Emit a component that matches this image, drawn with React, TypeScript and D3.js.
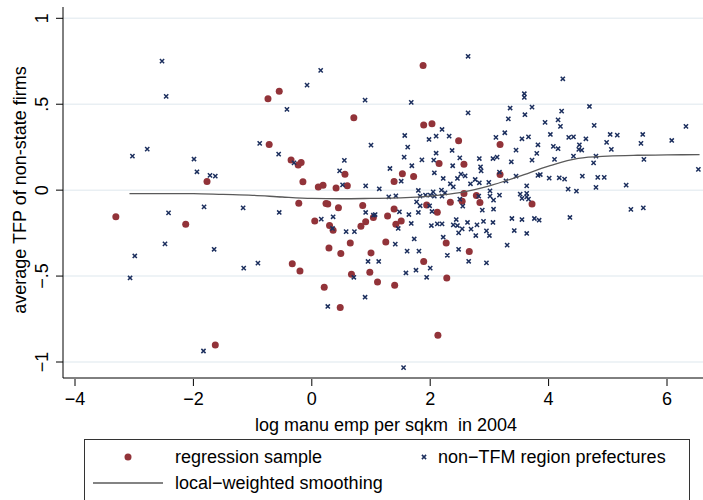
import React from 'react';
import * as d3 from 'd3';

// regression sample (red dots): [log manu emp, avg TFP]
const regressionSample: [number, number][] = [
  [-1.77, 0.051], [-3.31, -0.155], [-2.13, -0.198], [-1.63, -0.901], [-0.74, 0.532],
  [-0.55, 0.575], [0.71, 0.421], [-0.72, 0.266], [-0.35, 0.175], [-0.23, 0.147],
  [-0.18, 0.161], [-0.15, 0.049], [0.11, 0.019], [0.19, 0.029], [0.41, 0.012],
  [0.56, 0.093], [0.6, 0.025], [-0.22, -0.076], [0.27, -0.08], [0.24, -0.078],
  [0.45, -0.103], [0.86, -0.089], [0.05, -0.179], [0.3, -0.206], [0.36, -0.233],
  [0.83, -0.21], [0.91, -0.184], [1.04, -0.159], [0.65, -0.307], [0.29, -0.336],
  [0.49, -0.369], [1.0, -0.365], [-0.33, -0.429], [-0.2, -0.47], [0.67, -0.489],
  [0.98, -0.478], [0.21, -0.565], [0.48, -0.683], [1.88, 0.726], [1.89, 0.379],
  [2.03, 0.386], [2.48, 0.287], [3.18, 0.266], [2.15, 0.155], [2.57, 0.151],
  [1.53, 0.095], [1.72, 0.08], [1.39, 0.051], [3.18, 0.091], [2.57, -0.019],
  [2.78, -0.031], [2.34, -0.07], [2.54, -0.064], [2.84, -0.072], [1.39, -0.109],
  [1.28, -0.151], [1.42, -0.198], [1.51, -0.179], [1.94, -0.087], [2.12, -0.128],
  [1.25, -0.301], [2.27, -0.307], [2.66, -0.357], [1.89, -0.415], [1.11, -0.534],
  [1.4, -0.553], [2.28, -0.511], [2.13, -0.845], [3.72, -0.08],
];

// non-TFM region prefectures (navy crosses)
const nonTfm: [number, number][] = [
  [-2.53, 0.751], [-2.46, 0.546], [-3.03, 0.198], [-2.78, 0.239], [-1.99, 0.181],
  [-1.94, 0.107], [-1.72, 0.086], [-1.63, 0.082],
  [-2.42, -0.132], [-1.82, -0.097], [-2.48, -0.313], [-2.99, -0.383], [-1.65, -0.344],
  [-3.07, -0.511], [-1.83, -0.936],
  [0.15, 0.697], [-0.08, 0.611], [0.9, 0.524], [-0.42, 0.47], [-0.88, 0.272],
  [-0.56, 0.21], [-0.3, 0.159], [1.0, 0.262], [0.55, 0.173], [0.47, 0.112],
  [0.52, 0.031], [0.91, 0.025],
  [-1.16, -0.103], [-0.55, -0.13], [0.16, -0.169], [0.36, -0.155], [0.35, -0.223],
  [0.58, -0.241], [0.72, -0.241], [0.91, -0.13], [1.04, -0.146], [-1.15, -0.454],
  [-0.91, -0.425], [0.95, -0.415], [0.71, -0.507], [0.9, -0.623], [0.27, -0.677],
  [2.64, 0.779], [1.68, 0.511], [2.64, 0.45], [3.59, 0.561], [3.59, 0.54],
  [3.6, 0.439], [3.35, 0.478], [3.32, 0.415], [3.26, 0.334], [3.11, 0.307],
  [3.55, 0.299], [3.66, 0.31], [2.2, 0.353], [2.1, 0.314], [1.98, 0.295],
  [2.32, 0.314], [1.57, 0.318], [1.62, 0.25], [1.56, 0.192], [1.86, 0.176],
  [2.1, 0.215], [2.06, 0.175], [2.37, 0.231], [2.5, 0.188], [2.83, 0.184],
  [3.06, 0.184], [3.13, 0.192], [3.37, 0.165], [3.45, 0.233], [1.69, 0.142],
  [1.32, 0.126], [2.38, 0.142], [2.85, 0.136], [2.86, 0.112], [2.07, 0.101],
  [1.51, 0.052], [2.22, 0.068], [2.52, 0.093], [2.59, 0.083], [2.46, 0.068],
  [2.34, 0.037], [2.19, 0.0], [2.68, 0.037], [2.76, 0.062], [2.83, 0.043],
  [2.99, 0.045], [3.17, 0.105], [3.28, 0.054], [3.45, 0.082], [3.63, 0.025],
  [1.14, 0.008], [1.8, -0.002], [2.05, -0.01], [2.25, -0.016], [2.39, 0.019],
  [3.01, -0.004], [1.3, -0.039], [1.42, -0.033], [1.92, -0.029], [2.0, -0.029],
  [2.07, -0.035],
  [1.83, -0.035], [2.2, -0.035], [2.5, -0.052], [2.82, -0.035], [3.01, -0.035],
  [3.07, -0.058], [3.17, -0.029], [3.52, -0.023], [3.55, -0.048], [3.66, -0.052],
  [1.07, -0.142], [1.48, -0.126], [1.64, -0.142], [1.46, -0.223], [1.68, -0.194],
  [1.77, -0.068], [1.83, -0.091], [1.8, -0.13], [1.99, -0.091], [2.03, -0.124],
  [2.02, -0.206], [2.12, -0.196], [2.2, -0.196], [2.55, -0.093], [2.88, -0.116],
  [3.07, -0.111], [2.44, -0.171], [2.39, -0.202], [2.46, -0.206], [2.54, -0.225],
  [2.48, -0.249], [2.63, -0.188], [2.69, -0.227], [2.77, -0.264], [2.79, -0.202],
  [2.9, -0.182], [2.95, -0.237], [3.0, -0.264], [3.06, -0.188], [3.38, -0.165],
  [3.42, -0.235], [3.55, -0.171], [3.63, -0.252], [3.3, -0.32], [2.22, -0.274],
  [1.73, -0.284], [1.41, -0.314], [1.61, -0.355], [1.81, -0.355], [2.29, -0.379],
  [2.48, -0.344], [2.65, -0.414], [2.95, -0.423], [1.13, -0.415], [1.59, -0.482],
  [1.76, -0.466], [2.0, -0.454], [1.94, -0.507], [1.55, -1.033],
  [4.24, 0.648], [3.72, 0.483], [4.22, 0.46], [4.69, 0.487], [4.16, 0.409],
  [4.2, 0.371], [3.94, 0.394], [4.77, 0.377], [6.32, 0.371], [4.03, 0.324],
  [4.34, 0.307], [4.42, 0.31], [4.63, 0.299], [5.04, 0.324], [5.16, 0.32],
  [5.59, 0.324], [5.56, 0.272], [6.08, 0.289], [4.98, 0.278], [5.06, 0.237],
  [3.82, 0.264], [4.08, 0.255], [4.16, 0.241], [4.52, 0.264], [4.51, 0.237],
  [4.56, 0.233], [3.8, 0.214], [3.72, 0.175], [4.1, 0.179], [4.42, 0.198],
  [4.8, 0.198], [4.76, 0.159], [5.61, 0.179], [6.53, 0.121], [3.82, 0.086],
  [3.86, 0.091], [4.01, 0.07], [4.18, 0.072], [4.27, 0.064], [4.57, 0.082],
  [4.83, 0.074], [4.94, 0.074], [4.33, 0.006], [4.47, -0.006], [4.8, 0.016],
  [5.31, 0.029], [3.63, -0.019], [3.63, -0.039],
  [3.76, -0.165], [3.84, -0.175], [4.36, -0.159], [5.39, -0.112], [5.6, -0.103],
];

// lowess curve
const smoothX = [-3.08, -2.5, -2, -1.5, -1, -0.5, 0, 0.5, 1, 1.5, 2, 2.5, 3, 3.5, 4, 4.5, 5, 5.5, 6, 6.55];
const smoothY = [-0.02, -0.02, -0.02, -0.025, -0.03, -0.04, -0.048, -0.05, -0.048, -0.045, -0.035, -0.015, 0.025, 0.08, 0.14, 0.185, 0.198, 0.203, 0.205, 0.207];

const xTicks = [-4, -2, 0, 2, 4, 6];
const yTicks = [-1, -0.5, 0, 0.5, 1];
const yTickLabels = ['\u22121', '\u2212.5', '0', '.5', '1'];

const W = 703, H = 500;
const RED = '#923339';
const NAVY = '#1c2f5e';
const FONT = "'Liberation Sans', Arial, Helvetica, sans-serif";
const FS = 18;

export default function App() {
  const x = d3.scaleLinear().domain([-4, 6]).range([75, 667]);
  const y = d3.scaleLinear().domain([-1, 1]).range([362, 18.3]);
  const left = 63, bottom = 378, top = 7;

  const line = d3.line<number>()
    .x((_, i) => x(smoothX[i]))
    .y(d => y(d))
    .curve(d3.curveMonotoneX);

  const cross = (s: number) => `M${-s},${-s}L${s},${s}M${-s},${s}L${s},${-s}`;

  return (
    <svg width={W} height={H} style={{ position: 'absolute', left: 0, top: 0, background: '#fff' }}
      fontFamily={FONT}>
      {/* grid */}
      {yTicks.map(t => (
        <line key={'g' + t} x1={left} x2={W} y1={y(t)} y2={y(t)} stroke="#e9eff3" strokeWidth={1.5} />
      ))}
      {/* points */}
      {regressionSample.map((d, i) => (
        <circle key={'r' + i} cx={x(d[0])} cy={y(d[1])} r={3.5} fill={RED} />
      ))}
      {nonTfm.map((d, i) => (
        <path key={'n' + i} transform={`translate(${x(d[0])},${y(d[1])})`} d={cross(2.1)}
          stroke={NAVY} strokeWidth={1.5} fill="none" />
      ))}
      <path d={line(smoothY) || ''} fill="none" stroke="#5a5a5a" strokeWidth={1.3} />

      {/* axes */}
      <line x1={left} x2={left} y1={top} y2={bottom} stroke="#000" strokeWidth={1} />
      <line x1={left} x2={W} y1={bottom} y2={bottom} stroke="#000" strokeWidth={1} />
      {yTicks.map((t, i) => (
        <g key={'yt' + t}>
          <line x1={left - 7} x2={left} y1={y(t)} y2={y(t)} stroke="#000" />
          <text transform={`translate(48,${y(t)}) rotate(-90)`} textAnchor="middle" fontSize={FS}>
            {yTickLabels[i]}
          </text>
        </g>
      ))}
      {xTicks.map(t => (
        <g key={'xt' + t}>
          <line x1={x(t)} x2={x(t)} y1={bottom + 1} y2={bottom + 8} stroke="#000" />
          <text x={x(t)} y={405} textAnchor="middle" fontSize={FS}>
            {t < 0 ? '\u2212' + Math.abs(t) : String(t)}
          </text>
        </g>
      ))}
      <text x={386} y={431} textAnchor="middle" fontSize={FS} style={{ whiteSpace: 'pre' }}>
        {'log manu emp per sqkm  in 2004'}
      </text>
      <text transform="translate(26,190) rotate(-90)" textAnchor="middle" fontSize={FS}>
        average TFP of non-state firms
      </text>

      {/* legend */}
      <rect x={84.5} y={439.5} width={605} height={80} fill="#fff" stroke="#333" strokeWidth={1} />
      <circle cx={128} cy={457} r={3.5} fill={RED} />
      <text x={175} y={463} fontSize={FS}>regression sample</text>
      <path transform="translate(424,457)" d={cross(2.1)} stroke={NAVY} strokeWidth={1.5} fill="none" />
      <text x={438} y={463} fontSize={FS}>non{'\u2212'}TFM region prefectures</text>
      <line x1={93} x2={163} y1={483} y2={483} stroke="#5a5a5a" strokeWidth={1.3} />
      <text x={175} y={489} fontSize={FS}>local{'\u2212'}weighted smoothing</text>
    </svg>
  );
}
